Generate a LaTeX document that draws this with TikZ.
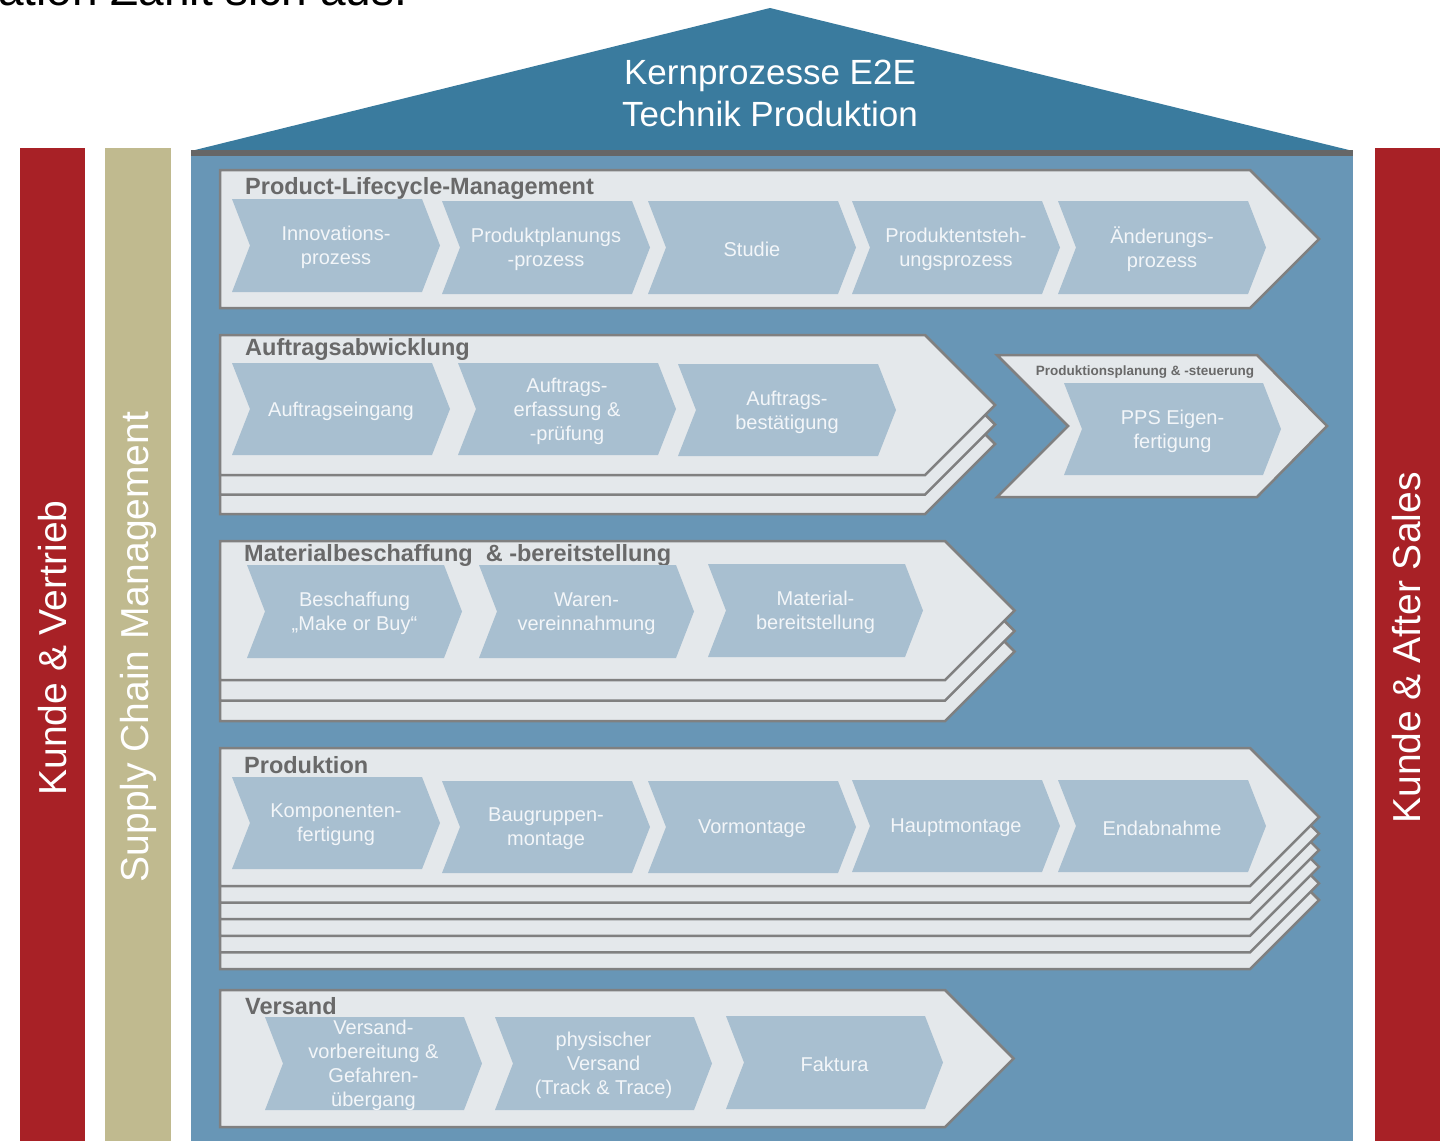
\documentclass[tikz,border=0pt]{standalone}
\usepackage{fontspec}
\setmainfont{Liberation Sans}
\definecolor{kundered}{RGB}{168, 33, 38}
\definecolor{scmtan}{RGB}{192, 186, 143}
\definecolor{hausblue}{RGB}{104, 150, 182}
\definecolor{roofblue}{RGB}{58, 123, 158}
\definecolor{boxfill}{RGB}{228, 232, 235}
\definecolor{boxline}{RGB}{128, 128, 128}
\definecolor{chevfill}{RGB}{168, 191, 208}
\definecolor{chevtxt}{RGB}{243, 246, 249}
\definecolor{labelgray}{RGB}{105, 105, 105}

\newcommand{\procarrow}[4]{%
  \filldraw[procshape] (#1,#2) -- (#4,#2) -- ({#4+(#3-#2)/2},{(#2+#3)/2}) -- (#4,#3) -- (#1,#3) -- cycle;}
\newcommand{\chev}[6]{%
  \fill[chevfill] (#2,#3) -- ({#2+#5},#3) -- ({#2+#5+18},{(#3+#4)/2}) -- ({#2+#5},#4) -- (#2,#4) -- ({#2+18},{(#3+#4)/2}) -- cycle;
  \node[chevtext] (#1) at ({#2+(#5+18)/2},{(#3+#4)/2+2}) {#6};}

\begin{document}
\begin{tikzpicture}[x=1pt, y=-1pt,
	procshape/.style={fill=boxfill, draw=boxline, line width=2.5pt, line join=miter},
	chevtext/.style={align=center, text=chevtxt, font=\fontsize{20}{24}\selectfont, inner sep=0pt},
	rowlabel/.style={anchor=west, text=labelgray, font=\bfseries\fontsize{23.5}{26}\selectfont, inner sep=0pt},
	sidetext/.style={rotate=90, text=white, font=\fontsize{39}{44}\selectfont}]
	\useasboundingbox (0,0) rectangle (1448,1141);
	\fill[white] (0,0) rectangle (1448,1141);
	\node[anchor=base west, inner sep=0pt, font=\fontsize{46}{50}\selectfont] (slidehead) at (-2,5) {ation Zahlt sich aus.};

	\fill[kundered] (20,148) rectangle (85,1141);
	\fill[scmtan] (105,148) rectangle (171,1141);
	\fill[kundered] (1375,148) rectangle (1440,1141);
	\fill[hausblue] (191,150) rectangle (1353,1141);
	\fill[roofblue] (191,151) -- (770,8) -- (1353,151) -- cycle;
	\draw[line width=6pt, gray!80!black] (191,153) -- (1353,153);

	\node[sidetext] (vertrieb) at (53,648) {Kunde \& Vertrieb};
	\node[sidetext] (scm) at (138,647) {Supply Chain Management};
	\node[sidetext] (aftersales) at (1407,648) {Kunde \& After Sales};
	\node[align=center, text=white, font=\fontsize{35}{42}\selectfont] (roof) at (770,93) {Kernprozesse E2E\\Technik Produktion};

	\procarrow{220}{170}{308}{1250}
	\node[rowlabel] (plm) at (245,188) {Product-Lifecycle-Management};
	\chev{inno}{232}{199}{292}{190}{Innovations-\\prozess}
	\chev{ppl}{442}{201}{294}{190}{Produktplanungs\\-prozess}
	\chev{studie}{648}{201}{294}{190}{Studie}
	\chev{pep}{852}{201}{294}{190}{Produktentsteh-\\ungsprozess}
	\chev{aend}{1058}{201}{294}{190}{Änderungs-\\prozess}

	\foreach \k in {2,1}{
		\begin{scope}[yshift=-\k*19.5pt]
			\procarrow{220}{335}{475}{925}
		\end{scope}}
	\procarrow{220}{335}{475}{925}
	\node[rowlabel] (auftrag) at (245,349) {Auftragsabwicklung};
	\chev{eingang}{232}{363}{455}{200}{Auftragseingang}
	\chev{erfassung}{458}{363}{455}{200}{Auftrags-\\erfassung \&\\-prüfung}
	\chev{bestaetigung}{678}{364}{456}{200}{Auftrags-\\bestätigung}

	\filldraw[procshape] (997,355) -- (1257,355) -- (1327,426) -- (1257,497) -- (997,497) -- (1068,426) -- cycle;
	\node[text=labelgray, font=\bfseries\fontsize{13.5}{15}\selectfont] (pps) at (1145,372) {Produktionsplanung \& -steuerung};
	\chev{eigen}{1064}{383}{475}{199}{PPS Eigen-\\fertigung}

	\foreach \k in {2,1}{
		\begin{scope}[yshift=-\k*20.5pt]
			\procarrow{220}{541}{680}{945}
		\end{scope}}
	\procarrow{220}{541}{680}{945}
	\node[rowlabel] (material) at (244,555) {Materialbeschaffung~~\& -bereitstellung};
	\chev{beschaffung}{247}{565}{658}{197}{Beschaffung\\„Make or Buy“}
	\chev{waren}{479}{565}{658}{197}{Waren-\\vereinnahmung}
	\chev{bereit}{708}{564}{657}{197}{Material-\\bereitstellung}

	\foreach \k in {5,4,3,2,1}{
		\begin{scope}[yshift=-\k*16.6pt]
			\procarrow{220}{748}{886}{1250}
		\end{scope}}
	\procarrow{220}{748}{886}{1250}
	\node[rowlabel] (produktion) at (244,765) {Produktion};
	\chev{komponenten}{232}{777}{869}{190}{Komponenten-\\fertigung}
	\chev{baugruppen}{442}{781}{873}{190}{Baugruppen-\\montage}
	\chev{vormontage}{648}{781}{873}{190}{Vormontage}
	\chev{hauptmontage}{852}{780}{872}{190}{Hauptmontage}
	\chev{endabnahme}{1058}{780}{872}{190}{Endabnahme}

	\procarrow{220}{990}{1127}{945}
	\node[rowlabel] (versand) at (245,1006) {Versand};
	\chev{vorbereitung}{265}{1017}{1110}{199}{Versand-\\vorbereitung \&\\Gefahren-\\übergang}
	\chev{physisch}{495}{1017}{1110}{199}{physischer\\Versand\\(Track \& Trace)}
	\chev{faktura}{726}{1016}{1109}{199}{Faktura}
\end{tikzpicture}
\end{document}
